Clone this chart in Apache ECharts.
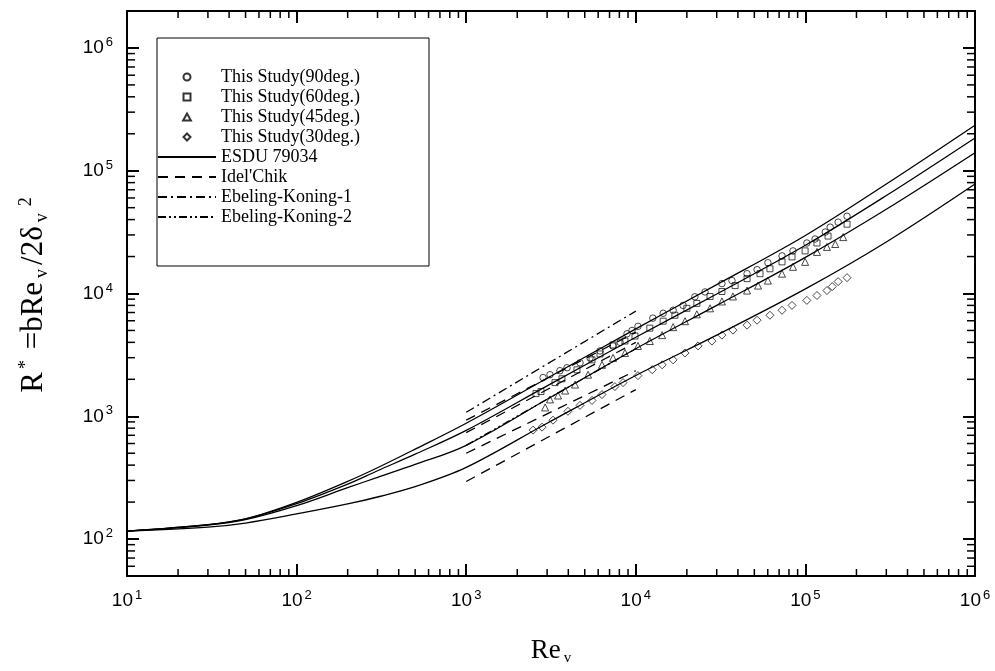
<!DOCTYPE html>
<html>
<head>
<meta charset="utf-8">
<script src="https://cdn.jsdelivr.net/npm/echarts@6/dist/echarts.min.js"></script>
<style>
  html, body { margin: 0; padding: 0; background: #fff; }
  #chart { width: 995px; height: 671px; }
</style>
</head>
<body>
<div id="chart"></div>
<script>
// axis ranges
const xMin = 10, xMax = 1000000;
const yMin = 50, yMax = 2000000;

// minor tick values (2..9 x 10^n)
const xMinor = [20, 30, 40, 50, 60, 70, 80, 90,
  200, 300, 400, 500, 600, 700, 800, 900,
  2000, 3000, 4000, 5000, 6000, 7000, 8000, 9000,
  20000, 30000, 40000, 50000, 60000, 70000, 80000, 90000,
  200000, 300000, 400000, 500000, 600000, 700000, 800000, 900000];
const yMinor = [60, 70, 80, 90,
  200, 300, 400, 500, 600, 700, 800, 900,
  2000, 3000, 4000, 5000, 6000, 7000, 8000, 9000,
  20000, 30000, 40000, 50000, 60000, 70000, 80000, 90000,
  200000, 300000, 400000, 500000, 600000, 700000, 800000, 900000];

// ESDU 79034 curves
const esduX = [10, 30, 50, 100, 200, 300, 500, 1000, 3000, 10000, 30000, 100000, 300000, 1000000];
const esdu90 = [116, 131, 146, 199, 295, 381, 540, 878, 2040, 5150, 11800, 29700, 78000, 235000];
const esdu60 = [116, 131, 146, 194, 280, 360, 491, 767, 1770, 4400, 9900, 24700, 62800, 185000];
const esdu45 = [116, 130, 144, 187, 262, 318, 405, 580, 1375, 3550, 8000, 19700, 48500, 140000];
const esdu30 = [116, 125, 135, 160, 193, 220, 267, 383, 877, 2150, 4580, 10900, 26300, 78000];

// Idel'Chik and Ebeling-Koning lines (Re = 1e3 .. 1e4)
const corrX = [1000, 10000];
const idel90 = [929, 4830];
const idel60 = [735, 4000];
const idel45 = [500, 2350];
const idel30 = [294, 1650];
const ek1 = [1077, 7190];
const ek2 = [580, 3550];

// measured points
const study90 = [[2840,2065],[3120,2180],[3570,2350],[3930,2485],[4690,2725],[5370,2990],[6150,3405],
  [7340,3740],[8080,4000],[8880,4700],[9500,5000],[10300,5400],[12600,6300],[14500,6900],[16600,7300],
  [19000,8000],[22300,9400],[25600,10300],[32200,12040],[36900,12740],[45300,14500],[51900,15630],
  [60100,17800],[72800,20250],[84500,22230],[102000,25780],[114000,27790],[131000,31640],[140000,34700],
  [156000,38100],[176000,42600]];
const study60 = [[2580,1530],[2760,1590],[3340,1880],[3670,2020],[4500,2390],[5520,2880],[6150,3220],
  [7340,3810],[8630,4100],[9890,4500],[12100,5220],[14500,5950],[17000,6650],[20000,7570],[22900,8300],
  [27400,9450],[32200,10380],[38500,11600],[45300,13220],[54000,14500],[61800,15900],[72800,18100],
  [83400,19870],[99600,22230],[117000,25780],[136000,29360],[176000,36700]];
const study45 = [[2920,1180],[3120,1371],[3480,1476],[3830,1620],[4380,1812],[5230,2180],[6320,2625],
  [7340,2990],[8630,3280],[10300,3740],[12100,4100],[14300,4580],[16600,5320],[19500,5950],[22900,6770],
  [27400,7570],[32200,8610],[37400,9460],[45300,10570],[52600,11600],[60100,12740],[72800,14500],
  [84500,16500],[99600,18100],[117000,21800],[134000,23950],[150000,25300],[167000,28800]];
const study30 = [[2480,771],[2800,815],[3250,929],[3980,1097],[4690,1227],[5520,1346],[6320,1503],
  [7530,1745],[8410,1880],[10300,2142],[12500,2395],[14300,2625],[16600,2880],[19500,3280],[23300,3740],
  [28100,4100],[32200,4580],[37400,5030],[45300,5520],[51900,6060],[61800,6650],[72800,7300],[83400,8000],
  [102000,8790],[117000,9630],[134000,10570],[144000,11380],[156000,12500],[176000,13460]];

const zip = (xs, ys) => xs.map((x, i) => [x, ys[i]]);

const serif = '"Liberation Serif", serif';
const sans = '"Liberation Sans", Arial, sans-serif';

function powLabel(v) {
  const n = Math.round(Math.log10(v));
  if (Math.abs(Math.log10(v) - n) > 1e-6) return '';
  return '10{sp|' + n + '}';
}

const labelRich = { sp: { fontSize: 13, lineHeight: 13, verticalAlign: 'top', fontFamily: sans, color: '#000', padding: [0, 0, 0, 2] } };

function xMinorTicks(params, api) {
  const v = api.value(0);
  const b = api.coord([v, yMin]);
  const t = api.coord([v, yMax]);
  const st = { stroke: '#000', lineWidth: 1.5 };
  return { type: 'group', children: [
    { type: 'line', shape: { x1: b[0], y1: b[1], x2: b[0], y2: b[1] - 7 }, style: st },
    { type: 'line', shape: { x1: t[0], y1: t[1], x2: t[0], y2: t[1] + 7 }, style: st }
  ] };
}
function yMinorTicks(params, api) {
  const v = api.value(1);
  const l = api.coord([xMin, v]);
  const r = api.coord([xMax, v]);
  const st = { stroke: '#000', lineWidth: 1.5 };
  return { type: 'group', children: [
    { type: 'line', shape: { x1: l[0], y1: l[1], x2: l[0] + 8, y2: l[1] }, style: st },
    { type: 'line', shape: { x1: r[0], y1: r[1], x2: r[0] - 8, y2: r[1] }, style: st }
  ] };
}

// legend icons that keep their aspect ratio
const iconCircle = 'path://M5,0A5,5 0 1,1 4.99,0Z';
const iconRect = 'path://M0,0L10,0L10,10L0,10Z';
const iconTriangle = 'path://M5,0L10,9L0,9Z';
const iconDiamond = 'path://M5,0L10,5L5,10L0,5Z';

const hollow = { color: 'rgba(0,0,0,0)', borderColor: '#000', borderWidth: 0.9 };
function scatter(name, symbol, size, data) {
  return { name, type: 'scatter', symbol, symbolSize: size, data, itemStyle: hollow, z: 4 };
}
function curve(name, data, type, smooth) {
  return {
    name, type: 'line', data, symbol: 'none', smooth: smooth ? 0.35 : false,
    lineStyle: { color: '#000', width: 1.3, type },
    itemStyle: { color: 'rgba(0,0,0,0)' }, z: 3
  };
}

const axisCommon = {
  type: 'log', logBase: 10,
  axisLine: { lineStyle: { color: '#000', width: 2 } },
  axisTick: { inside: true, length: 12, lineStyle: { color: '#000', width: 2 } },
  splitLine: { show: false }
};

const chart = echarts.init(document.getElementById('chart'));
chart.setOption({
  animation: false,
  backgroundColor: '#fff',
  grid: { left: 127, right: 20, top: 11, bottom: 91 },
  legend: {
    orient: 'vertical', left: 157, top: 38,
    padding: [29, 13, 39, 0],
    itemWidth: 58, itemHeight: 7, itemGap: 0,
    symbolKeepAspect: true,
    borderColor: '#000', borderWidth: 1,
    textStyle: { fontFamily: serif, fontSize: 18, color: '#000', lineHeight: 20, width: 195 },
    data: [
      { name: 'This Study(90deg.)', icon: iconCircle },
      { name: 'This Study(60deg.)', icon: iconRect },
      { name: 'This Study(45deg.)', icon: iconTriangle },
      { name: 'This Study(30deg.)', icon: iconDiamond },
      'ESDU 79034', "Idel'Chik", 'Ebeling-Koning-1', 'Ebeling-Koning-2']
  },
  xAxis: [
    Object.assign({}, axisCommon, {
      min: xMin, max: xMax, position: 'bottom',
      axisLabel: { formatter: powLabel, fontFamily: sans, fontSize: 19, color: '#000', margin: 13, lineHeight: 24, rich: labelRich },
      name: '{m|Re}{sb|v}', nameLocation: 'middle', nameGap: 60,
      nameTextStyle: { rich: {
        m: { fontFamily: serif, fontSize: 27, lineHeight: 30, color: '#000' },
        sb: { fontFamily: serif, fontSize: 15, lineHeight: 14, verticalAlign: 'bottom', color: '#000', padding: [0, 0, 0, 3] }
      } }
    }),
    Object.assign({}, axisCommon, { min: xMin, max: xMax, position: 'top', axisLabel: { show: false } })
  ],
  yAxis: [
    Object.assign({}, axisCommon, {
      min: yMin, max: yMax, position: 'left',
      axisLabel: { formatter: powLabel, fontFamily: sans, fontSize: 19, color: '#000', margin: 14, lineHeight: 24, rich: labelRich },
      name: '{m|R}{sp|*}{m| =bRe}{sb|v}{m|/2δ}{sb|v}{sp|2}', nameLocation: 'middle', nameGap: 76, nameRotate: 90,
      nameTextStyle: { rich: {
        m: { fontFamily: serif, fontSize: 31, lineHeight: 34, color: '#000' },
        sp: { fontFamily: serif, fontSize: 18, lineHeight: 16, verticalAlign: 'top', color: '#000', padding: [0, 3, 0, 3] },
        sb: { fontFamily: serif, fontSize: 18, lineHeight: 16, verticalAlign: 'bottom', color: '#000', padding: [0, 4, 0, 4] }
      } }
    }),
    Object.assign({}, axisCommon, { min: yMin, max: yMax, position: 'right', axisLabel: { show: false } })
  ],
  series: [
    { type: 'custom', renderItem: xMinorTicks, data: xMinor.map(v => [v, yMin]), silent: true, z: 5 },
    { type: 'custom', renderItem: yMinorTicks, data: yMinor.map(v => [xMin, v]), silent: true, z: 5 },
    scatter('This Study(90deg.)', 'circle', 6.5, study90),
    scatter('This Study(60deg.)', 'rect', 6, study60),
    scatter('This Study(45deg.)', 'triangle', 7, study45),
    scatter('This Study(30deg.)', 'diamond', 8, study30),
    curve('ESDU 79034', zip(esduX, esdu90), 'solid', true),
    curve('ESDU 79034', zip(esduX, esdu60), 'solid', true),
    curve('ESDU 79034', zip(esduX, esdu45), 'solid', true),
    curve('ESDU 79034', zip(esduX, esdu30), 'solid', true),
    curve("Idel'Chik", zip(corrX, idel90), [10, 7]),
    curve("Idel'Chik", zip(corrX, idel60), [10, 7]),
    curve("Idel'Chik", zip(corrX, idel45), [10, 7]),
    curve("Idel'Chik", zip(corrX, idel30), [10, 7]),
    curve('Ebeling-Koning-1', zip(corrX, ek1), [9, 4, 2, 4]),
    curve('Ebeling-Koning-2', zip(corrX, ek2), [8, 3, 2, 3, 2, 3])
  ]
});
</script>
</body>
</html>
